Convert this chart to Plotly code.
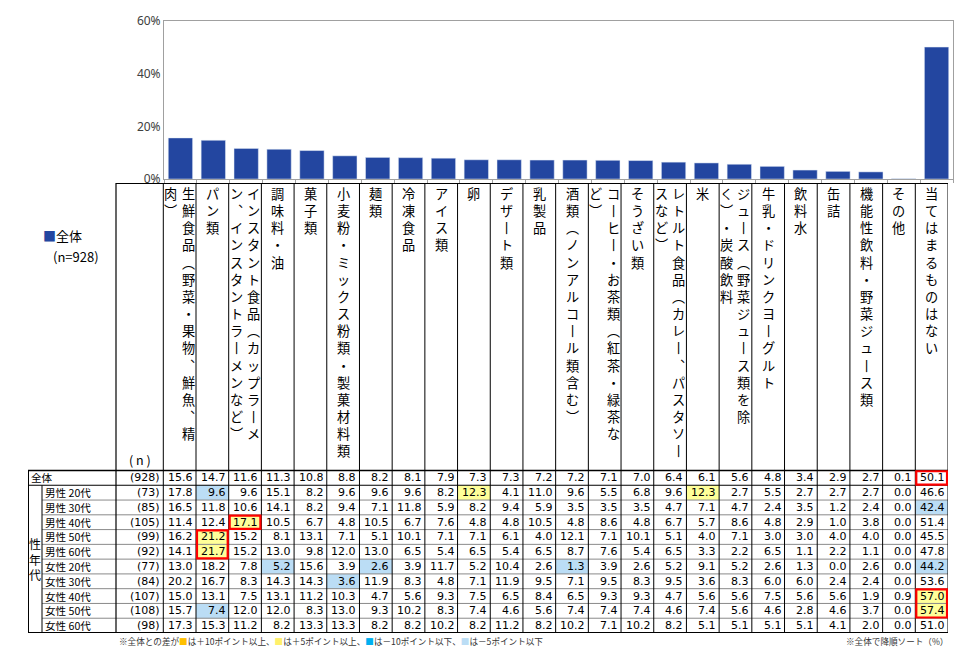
import plotly.graph_objects as go

# ---------------- data ----------------
header_lines = [
    ["生鮮食品（野菜・果物、鮮魚、精", "肉）"],
    ["パン類"],
    ["インスタント食品（カップラーメ", "ン、インスタントラーメンなど）"],
    ["調味料・油"],
    ["菓子類"],
    ["小麦粉・ミックス粉類・製菓材料類"],
    ["麺類"],
    ["冷凍食品"],
    ["アイス類"],
    ["卵"],
    ["デザート類"],
    ["乳製品"],
    ["酒類（ノンアルコール類含む）"],
    ["コーヒー・お茶類（紅茶・緑茶な", "ど）"],
    ["そうざい類"],
    ["レトルト食品（カレー、パスタソー", "スなど）"],
    ["米"],
    ["ジュース（野菜ジュース類を除", "く）・炭酸飲料"],
    ["牛乳・ドリンクヨーグルト"],
    ["飲料水"],
    ["缶詰"],
    ["機能性飲料・野菜ジュース類"],
    ["その他"],
    ["当てはまるものはない"],
]
categories = ["".join(l) for l in header_lines]

row_labels = ["全体", "男性 20代", "男性 30代", "男性 40代", "男性 50代", "男性 60代",
              "女性 20代", "女性 30代", "女性 40代", "女性 50代", "女性 60代"]
group_label = "性年代"
n_values = [928, 73, 85, 105, 99, 92, 77, 84, 107, 108, 98]

total      = [15.6, 14.7, 11.6, 11.3, 10.8, 8.8, 8.2, 8.1, 7.9, 7.3, 7.3, 7.2, 7.2, 7.1, 7.0, 6.4, 6.1, 5.6, 4.8, 3.4, 2.9, 2.7, 0.1, 50.1]
male_20s   = [17.8, 9.6, 9.6, 15.1, 8.2, 9.6, 9.6, 9.6, 8.2, 12.3, 4.1, 11.0, 9.6, 5.5, 6.8, 9.6, 12.3, 2.7, 5.5, 2.7, 2.7, 2.7, 0.0, 46.6]
male_30s   = [16.5, 11.8, 10.6, 14.1, 8.2, 9.4, 7.1, 11.8, 5.9, 8.2, 9.4, 5.9, 3.5, 3.5, 3.5, 4.7, 7.1, 4.7, 2.4, 3.5, 1.2, 2.4, 0.0, 42.4]
male_40s   = [11.4, 12.4, 17.1, 10.5, 6.7, 4.8, 10.5, 6.7, 7.6, 4.8, 4.8, 10.5, 4.8, 8.6, 4.8, 6.7, 5.7, 8.6, 4.8, 2.9, 1.0, 3.8, 0.0, 51.4]
male_50s   = [16.2, 21.2, 15.2, 8.1, 13.1, 7.1, 5.1, 10.1, 7.1, 7.1, 6.1, 4.0, 12.1, 7.1, 10.1, 5.1, 4.0, 7.1, 3.0, 3.0, 4.0, 4.0, 0.0, 45.5]
male_60s   = [14.1, 21.7, 15.2, 13.0, 9.8, 12.0, 13.0, 6.5, 5.4, 6.5, 5.4, 6.5, 8.7, 7.6, 5.4, 6.5, 3.3, 2.2, 6.5, 1.1, 2.2, 1.1, 0.0, 47.8]
female_20s = [13.0, 18.2, 7.8, 5.2, 15.6, 3.9, 2.6, 3.9, 11.7, 5.2, 10.4, 2.6, 1.3, 3.9, 2.6, 5.2, 9.1, 5.2, 2.6, 1.3, 0.0, 2.6, 0.0, 44.2]
female_30s = [20.2, 16.7, 8.3, 14.3, 14.3, 3.6, 11.9, 8.3, 4.8, 7.1, 11.9, 9.5, 7.1, 9.5, 8.3, 9.5, 3.6, 8.3, 6.0, 6.0, 2.4, 2.4, 0.0, 53.6]
female_40s = [15.0, 13.1, 7.5, 13.1, 11.2, 10.3, 4.7, 5.6, 9.3, 7.5, 6.5, 8.4, 6.5, 9.3, 9.3, 4.7, 5.6, 5.6, 7.5, 5.6, 5.6, 1.9, 0.9, 57.0]
female_50s = [15.7, 7.4, 12.0, 12.0, 8.3, 13.0, 9.3, 10.2, 8.3, 7.4, 4.6, 5.6, 7.4, 7.4, 7.4, 4.6, 7.4, 5.6, 4.6, 2.8, 4.6, 3.7, 0.0, 57.4]
female_60s = [17.3, 15.3, 11.2, 8.2, 13.3, 13.3, 8.2, 8.2, 10.2, 8.2, 11.2, 8.2, 10.2, 7.1, 10.2, 8.2, 5.1, 5.1, 5.1, 5.1, 4.1, 2.0, 0.0, 51.0]
table_rows = [total, male_20s, male_30s, male_40s, male_50s, male_60s,
              female_20s, female_30s, female_40s, female_50s, female_60s]

# emphasised cells (row_from, row_to, column)
red_boxes = [(0, 0, 23), (3, 3, 2), (4, 5, 1), (8, 9, 23)]

y_ticks = [0, 20, 40, 60]

# ---------------- styling ----------------
W, H = 975, 662
BAR_COLOR = "#2346A0"
C_UP10, C_UP5, C_DN10, C_DN5 = "#FFC000", "#FFFF99", "#00B0F0", "#BBDDF5"
JP = "Noto Sans CJK JP"
NUM = "DejaVu Sans, Noto Sans CJK JP"

def py(p):
    return 1 - p / H

# table geometry (pixel layout -> axis units)
tbl_left, tbl_right, data_left, ncol_left, grp_sep = 28, 948, 163.3, 116, 42
unit = (tbl_right - data_left) / len(categories)
x2_min = -0.5 - (data_left - tbl_left) / unit
x_ncol = -0.5 - (data_left - ncol_left) / unit
x_grp = x2_min + (grp_sep - tbl_left) / unit
x2_max = len(categories) - 0.5

tbl_top, rows_top, tbl_bottom = 183, 470.5, 633
nrows = len(table_rows)
runit = (tbl_bottom - rows_top) / nrows
head_top = -0.5 - (rows_top - tbl_top) / runit
y2_max = nrows - 0.5

vert_map = {"（": "︵", "）": "︶", "、": "︑", "ー": "丨"}

def vertical(s):
    return "<br>".join(vert_map.get(c, c) for c in s)

fig = go.Figure()

fig.add_trace(go.Bar(
    x=categories, y=total, marker_color=BAR_COLOR, width=0.74,
    showlegend=False, hoverinfo="skip", xaxis="x", yaxis="y"))

fig.add_trace(go.Scatter(x=[], y=[], xaxis="x2", yaxis="y2",
                         showlegend=False, hoverinfo="skip"))

shapes = []
annotations = []

# cell highlights from difference against total
for i in range(1, nrows):
    for j, v in enumerate(table_rows[i]):
        d = round(v - total[j], 1)
        col = None
        if d >= 10:
            col = C_UP10
        elif d >= 5:
            col = C_UP5
        elif d <= -10:
            col = C_DN10
        elif d <= -5:
            col = C_DN5
        if col:
            shapes.append(dict(type="rect", xref="x2", yref="y2",
                               x0=j - 0.5, x1=j + 0.5, y0=i - 0.5, y1=i + 0.5,
                               fillcolor=col, line=dict(width=0), layer="below"))

def line(x0, y0, x1, y1, color="#000000", width=1):
    shapes.append(dict(type="line", xref="x2", yref="y2", x0=x0, y0=y0, x1=x1, y1=y1,
                       line=dict(color=color, width=width)))

# horizontal rules
for i in range(1, nrows - 1):
    line(x_grp, i + 0.5, x2_max, i + 0.5, "#8a8a8a", 1)
line(x2_min, 0.5, x2_max, 0.5, "#000000", 1.2)
line(x2_min, -0.5, x2_max, -0.5, "#000000", 1.5)
line(x_ncol, head_top, x2_max, head_top, "#000000", 2)
line(x2_min, y2_max, x2_max, y2_max, "#000000", 2)
# vertical rules
for j in range(len(categories) + 1):
    line(j - 0.5, head_top, j - 0.5, y2_max, "#000000", 1)
line(x_ncol, head_top, x_ncol, y2_max, "#000000", 1.2)
line(x2_min, -0.5, x2_min, y2_max, "#000000", 2)
line(x_grp, 0.5, x_grp, y2_max, "#000000", 1)

# red emphasis boxes
for r0, r1, c in red_boxes:
    shapes.append(dict(type="rect", xref="x2", yref="y2",
                       x0=c - 0.47, x1=c + 0.47, y0=r0 - 0.45, y1=r1 + 0.45,
                       line=dict(color="#FF0000", width=2.2), fillcolor="rgba(0,0,0,0)"))

# header texts (vertical)
for j, lines in enumerate(header_lines):
    offs = [0.0] if len(lines) == 1 else [0.26, -0.27]
    for k, s in enumerate(lines):
        annotations.append(dict(
            xref="x2", yref="y2", x=j + offs[k], y=head_top, yshift=0,
            xanchor="center", yanchor="top", showarrow=False, align="center",
            borderpad=0, text=vertical(s),
            font=dict(family=JP, size=13.2, color="#000000")))

annotations.append(dict(xref="x2", yref="y2", x=(x_ncol - 0.5) / 2, y=-0.5,
                        xanchor="center", yanchor="bottom", yshift=1, showarrow=False,
                        borderpad=0, text="( n )",
                        font=dict(family=JP, size=12.5, color="#000000")))

# body
for i, row in enumerate(table_rows):
    lx = x2_min if i == 0 else x_grp
    annotations.append(dict(xref="x2", yref="y2", x=lx, y=i, xanchor="left", xshift=2,
                            showarrow=False, borderpad=0, text=row_labels[i],
                            font=dict(family=JP, size=10.6, color="#000000")))
    annotations.append(dict(xref="x2", yref="y2", x=-0.5, y=i, xanchor="right", xshift=-2,
                            showarrow=False, borderpad=0, text=f"({n_values[i]})",
                            font=dict(family=NUM, size=11, color="#000000")))
    for j, v in enumerate(row):
        annotations.append(dict(xref="x2", yref="y2", x=j + 0.5, y=i, xanchor="right",
                                xshift=-2, showarrow=False, borderpad=0, text=f"{v:.1f}",
                                font=dict(family=NUM, size=11, color="#000000")))

annotations.append(dict(xref="x2", yref="y2", x=(x2_min + x_grp) / 2, y=(1 + nrows - 1) / 2,
                        xanchor="center", yanchor="middle", showarrow=False, borderpad=0,
                        text=vertical(group_label),
                        font=dict(family=JP, size=12, color="#000000")))

# legend-like label and footnotes (paper)
annotations.append(dict(xref="paper", yref="paper", x=41 / W, y=py(236), xanchor="left",
                        yanchor="middle", showarrow=False,
                        text=f'<span style="color:{BAR_COLOR}">■</span>{row_labels[0]}',
                        font=dict(family=JP, size=13, color="#000000")))
annotations.append(dict(xref="paper", yref="paper", x=51 / W, y=py(256), xanchor="left",
                        yanchor="middle", showarrow=False, text=f"(n={n_values[0]})",
                        font=dict(family=JP, size=13, color="#000000")))
annotations.append(dict(
    xref="paper", yref="paper", x=117 / W, y=py(641), xanchor="left", yanchor="middle",
    showarrow=False,
    text=(f'※全体との差が<span style="color:{C_UP10}">■</span>は＋10ポイント以上、'
          f'<span style="color:#FFF06A">■</span>は＋5ポイント以上、'
          f'<span style="color:{C_DN10}">■</span>は－10ポイント以下、'
          f'<span style="color:{C_DN5}">■</span>は－5ポイント以下'),
    font=dict(family=JP, size=8.6, color="#333333")))
annotations.append(dict(xref="paper", yref="paper", x=950 / W, y=py(641), xanchor="right",
                        yanchor="middle", showarrow=False, text="※全体で降順ソート（%）",
                        font=dict(family=JP, size=8.6, color="#333333")))

fig.update_layout(
    width=W, height=H, autosize=False,
    margin=dict(l=0, r=0, t=0, b=0, pad=0, autoexpand=False),
    paper_bgcolor="white", plot_bgcolor="white",
    xaxis=dict(domain=[164 / W, 953 / W], range=[-0.5, len(categories) - 0.5],
               type="category", showticklabels=False, ticks="outside", tickson="boundaries",
               ticklen=3, tickcolor="#a0a0a0", showline=True, mirror=True,
               linecolor="#a0a0a0", linewidth=1, showgrid=False, zeroline=False,
               anchor="y", fixedrange=True, automargin=False),
    yaxis=dict(domain=[py(179), py(21)], range=[0, 60], tickvals=y_ticks,
               ticktext=[f"{t}%" for t in y_ticks], ticks="", showgrid=False,
               showline=True, mirror=True, linecolor="#a0a0a0", linewidth=1,
               zeroline=False, tickfont=dict(family="Noto Sans", size=12, color="#404040"),
               anchor="x", fixedrange=True, automargin=False),
    xaxis2=dict(domain=[tbl_left / W, tbl_right / W], range=[x2_min, x2_max],
                visible=False, anchor="y2", fixedrange=True, automargin=False),
    yaxis2=dict(domain=[py(tbl_bottom), py(tbl_top)], range=[y2_max, head_top],
                visible=False, anchor="x2", fixedrange=True, automargin=False),
    shapes=shapes, annotations=annotations, bargap=0.26,
)

fig.write_html("out.html",
               post_script="document.body.style.margin='0';document.body.style.overflow='hidden';")
